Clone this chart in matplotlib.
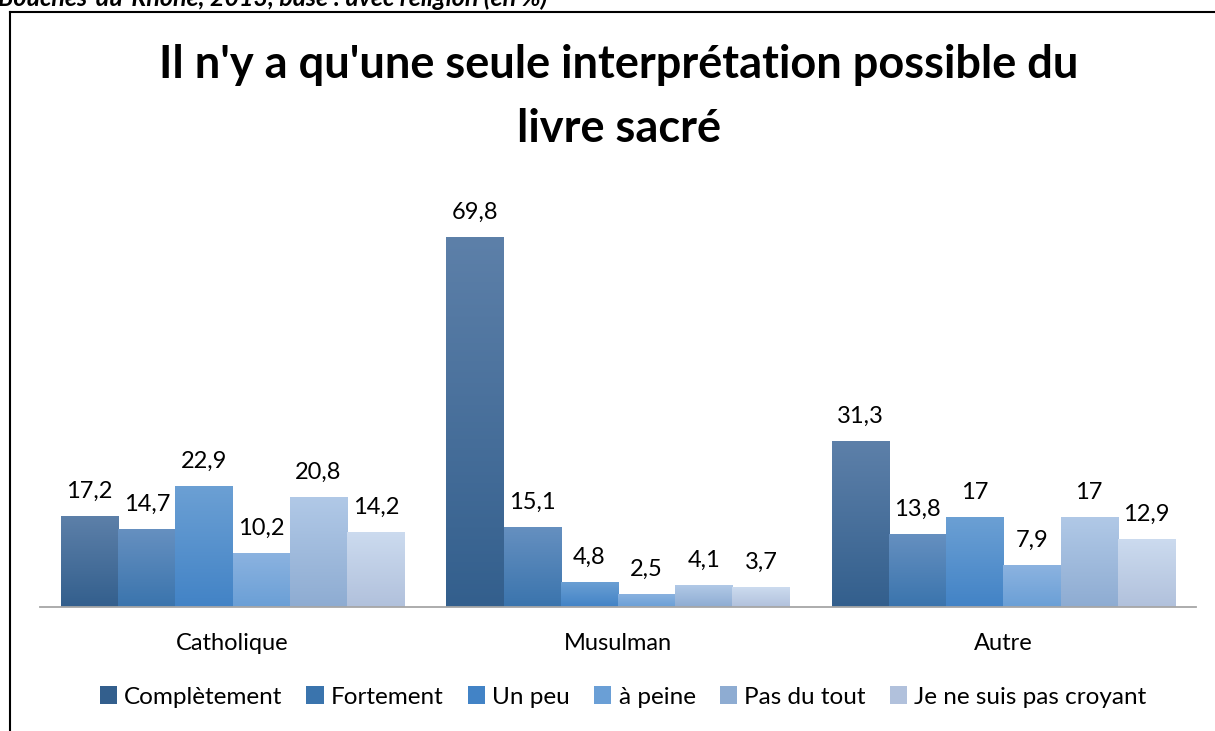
import numpy as np
import matplotlib
matplotlib.use("Agg")
import matplotlib.pyplot as plt
from matplotlib.colors import LinearSegmentedColormap
from matplotlib.lines import Line2D
from matplotlib.patches import Patch

# data
categories = ["Catholique", "Musulman", "Autre"]
series = ["Complètement", "Fortement", "Un peu", "à peine", "Pas du tout", "Je ne suis pas croyant"]
complet = [17.2, 69.8, 31.3]
fortement = [14.7, 15.1, 13.8]
un_peu = [22.9, 4.8, 17]
a_peine = [10.2, 2.5, 7.9]
pas_du_tout = [20.8, 4.1, 17]
non_croyant = [14.2, 3.7, 12.9]
values = [complet, fortement, un_peu, a_peine, pas_du_tout, non_croyant]

title = "Il n'y a qu'une seule interprétation possible du\nlivre sacré"
subtitle = "Bouches-du-Rhône, 2013, base : avec religion (en %)"

# gradient colours (bottom, top) per series
grad = [("#335f8d", "#5d80a9"),
        ("#3a74ad", "#6690c0"),
        ("#4283c6", "#6ca0d4"),
        ("#6a9fd6", "#8cb3e0"),
        ("#8eacd2", "#b1c9e7"),
        ("#b1c1dc", "#ccdbef")]

plt.rcParams['font.family'] = ['Lato', 'DejaVu Sans']

W, H = 1215, 731
fig = plt.figure(figsize=(W / 100, H / 100), dpi=100)
ax = fig.add_axes([40 / W, 124 / H, 1156 / W, 424 / H])

n = len(series)
bw = 0.891 / n
x = np.arange(len(categories))
grad_img = np.linspace(0, 1, 256).reshape(-1, 1)

for i, vals in enumerate(values):
    pos = x - 0.891 / 2 + bw * (i + 0.5)
    bars = ax.bar(pos, vals, width=bw, color='none', edgecolor='none')
    cmap = LinearSegmentedColormap.from_list("", list(grad[i]))
    for b, v in zip(bars, vals):
        x0, w = b.get_x(), b.get_width()
        im = ax.imshow(grad_img, cmap=cmap, origin='lower', aspect='auto',
                       extent=[x0, x0 + w, 0, v], zorder=2)
        im.set_clip_path(b)
        ax.annotate(("%g" % v).replace(".", ","), (x0 + w / 2, v),
                    xytext=(0, 13), textcoords='offset points',
                    ha='center', va='baseline', fontsize=17, color='black')

ax.set_xlim(-0.5, 2.5)
ax.set_ylim(0, 80)
ax.set_xticks(x)
ax.set_xticklabels(categories, fontsize=17)
ax.tick_params(axis='x', length=0, pad=19)
ax.set_yticks([])
for s in ['top', 'right', 'left']:
    ax.spines[s].set_visible(False)
ax.spines['bottom'].set_color('#a6a6a6')
ax.spines['bottom'].set_linewidth(1.3)

# title
fig.text(619 / W, 1 - 97 / H, title, ha='center', va='center',
         fontsize=32.5, fontweight='bold', linespacing=1.65)

# cut-off caption at very top
fig.text(-2 / W, 1 - 6 / H, subtitle, ha='left', va='baseline',
         fontsize=18, fontweight='bold', fontstyle='italic')

# frame
fig.add_artist(Line2D([9.5 / W, 9.5 / W], [0, 1 - 12 / H], transform=fig.transFigure,
                      color='black', lw=1.5))
fig.add_artist(Line2D([9.5 / W, 1], [1 - 12 / H, 1 - 12 / H], transform=fig.transFigure,
                      color='black', lw=1.5))

# legend
handles = [Patch(facecolor=grad[i][0], edgecolor='none') for i in range(n)]
fig.legend(handles, series, loc='center', bbox_to_anchor=(623 / W, 1 - 697 / H),
           ncol=n, frameon=False, fontsize=17.5, handlelength=0.7, handleheight=0.7,
           handletextpad=0.3, columnspacing=1.0)

fig.savefig("out.png", dpi=100)
